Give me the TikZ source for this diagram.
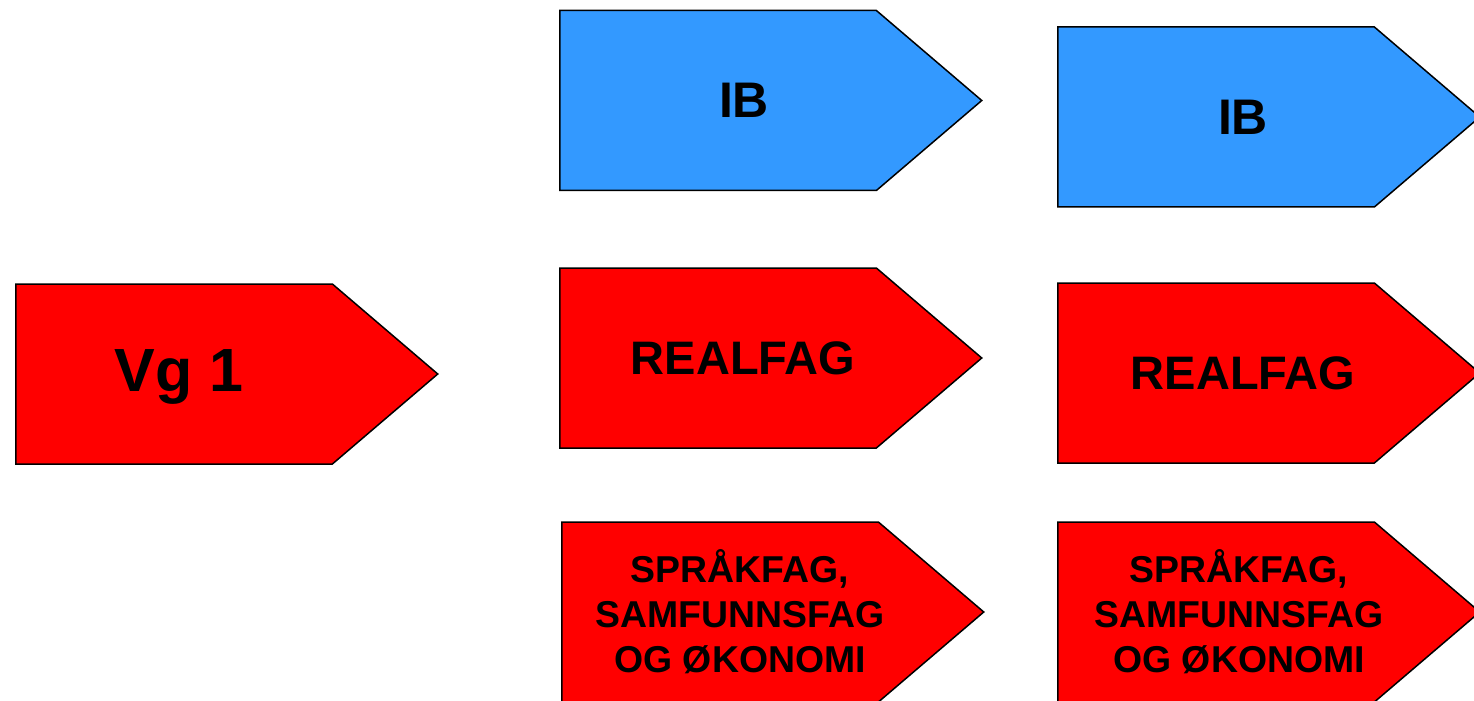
\documentclass[tikz,border=0pt]{standalone}
\usepackage{fontspec}
\setmainfont{Liberation Sans}
\usetikzlibrary{positioning,shapes.symbols}
\definecolor{ibblue}{RGB}{51,153,255}
\definecolor{fagred}{RGB}{255,0,0}
\tikzset{arrow box/.style={signal,signal to=east,signal pointer angle=81,draw=black,line width=0.75pt,
            minimum width=211pt,minimum height=90pt,inner sep=0pt},
            red box/.style={arrow box,fill=fagred},
            blue box/.style={arrow box,fill=ibblue},
            box text/.style={inner sep=0pt,align=center,font=\bfseries\fontsize{#1}{22.5}\selectfont},
            }

\begin{document}
\begin{tikzpicture}[x=0.5pt,y=-0.5pt]
    \useasboundingbox (0,0) rectangle (1474,701);
    \node[red box,anchor=west,label={[box text=30.5,xshift=2.5pt,yshift=-1.5pt]center:Vg 1}] (vg) at (15,374) {};
    \node[blue box,anchor=west,label={[box text=25,xshift=13pt]center:IB}] (ib1) at (559,100.5) {};
    \node[red box,anchor=west,label={[box text=23.5,xshift=12.5pt]center:REALFAG}] (real1) at (559,358) {};
    \node[red box,anchor=west,label={[box text=18.7,xshift=10pt]center:SPRÅKFAG,\\SAMFUNNSFAG\\OG ØKONOMI}] (sprak1) at (561,612) {};
    \node[blue box,anchor=west,label={[box text=25,xshift=13.5pt]center:IB}] (ib2) at (1057,117) {};
    \node[red box,anchor=west,label={[box text=23.5,xshift=13.5pt]center:REALFAG}] (real2) at (1057,373) {};
    \node[red box,anchor=west,label={[box text=18.7,xshift=11.5pt]center:SPRÅKFAG,\\SAMFUNNSFAG\\OG ØKONOMI}] (sprak2) at (1057,612) {};
\end{tikzpicture}
\end{document}
